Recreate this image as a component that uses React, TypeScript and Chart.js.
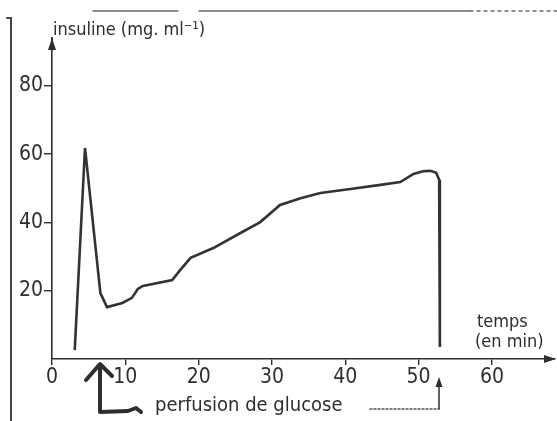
import React, { useEffect, useRef } from "react";
import { Chart, registerables } from "chart.js";

Chart.register(...registerables);

// Time (min) and insulin (mg.ml-1)
const minutes = [3.1, 4.5, 6.6, 7.5, 9.6, 10.9, 11.7, 12.4, 16.4, 17.5, 18.9, 22.0, 25.7, 28.4, 31.1, 33.9, 36.6, 40.7, 44.8, 47.5, 49.3, 50.6, 51.6, 52.4, 52.8, 52.9];
const insulin = [2.6, 61.8, 19.3, 15.2, 16.4, 17.9, 20.5, 21.4, 23.1, 26.1, 29.6, 32.5, 36.9, 40.1, 45.1, 47.1, 48.6, 49.8, 51.0, 51.8, 54.2, 55.0, 55.1, 54.5, 52.5, 3.5];
const xTicks = [0, 10, 20, 30, 40, 50, 60];
const yTicks = [20, 40, 60, 80];
const yTitle = "insuline (mg. ml⁻¹)";
const xTitle1 = "temps";
const xTitle2 = "(en min)";
const note = "perfusion de glucose";

const FONT = '"Liberation Sans Narrow", "DejaVu Sans Condensed", "Arial Narrow", "Liberation Sans", sans-serif';
const INK = "#2e2e2e";

const extras = {
  id: "extras",
  afterDraw(chart: any) {
    const ctx = chart.ctx as CanvasRenderingContext2D;
    const { left, right, top, bottom } = chart.chartArea;
    ctx.save();
    ctx.strokeStyle = INK;
    ctx.fillStyle = INK;
    ctx.lineCap = "round";
    // y-axis arrow
    ctx.lineWidth = 1.6;
    ctx.beginPath();
    ctx.moveTo(left, top + 10);
    ctx.lineTo(left, top);
    ctx.stroke();
    ctx.beginPath();
    ctx.moveTo(left, top);
    ctx.lineTo(left - 4, top + 12);
    ctx.lineTo(left + 4, top + 12);
    ctx.closePath();
    ctx.fill();
    // x-axis arrow
    ctx.beginPath();
    ctx.moveTo(right + 1, bottom);
    ctx.lineTo(right - 11, bottom - 4);
    ctx.lineTo(right - 11, bottom + 4);
    ctx.closePath();
    ctx.fill();
    // page border on the left
    ctx.strokeStyle = "#444";
    ctx.lineWidth = 2;
    ctx.beginPath();
    ctx.moveTo(7, 18);
    ctx.lineTo(11, 18);
    ctx.lineTo(11, 421);
    ctx.stroke();
    // top rules
    ctx.strokeStyle = "#6a6a6a";
    ctx.lineWidth = 1.4;
    ctx.beginPath();
    ctx.moveTo(93, 11);
    ctx.lineTo(178, 11);
    ctx.moveTo(199, 11);
    ctx.lineTo(470, 11);
    ctx.stroke();
    ctx.setLineDash([3, 4]);
    ctx.beginPath();
    ctx.moveTo(470, 11);
    ctx.lineTo(557, 11);
    ctx.stroke();
    ctx.setLineDash([]);
    // titles
    ctx.fillStyle = INK;
    ctx.textBaseline = "alphabetic";
    ctx.textAlign = "left";
    ctx.font = `18px ${FONT}`;
    ctx.fillText(yTitle, 53, 35);
    ctx.font = `18px ${FONT}`;
    ctx.fillText(xTitle1, 477, 327);
    ctx.fillText(xTitle2, 475, 347);
    ctx.font = `20px ${FONT}`;
    ctx.fillText(note, 155, 411);
    // dashed lead to the end of the perfusion
    ctx.strokeStyle = "#555";
    ctx.lineWidth = 1.5;
    ctx.setLineDash([2, 2]);
    ctx.beginPath();
    ctx.moveTo(370, 409);
    ctx.lineTo(439, 409);
    ctx.stroke();
    ctx.setLineDash([]);
    ctx.strokeStyle = INK;
    ctx.beginPath();
    ctx.moveTo(439, 409);
    ctx.lineTo(439, 384);
    ctx.stroke();
    ctx.beginPath();
    ctx.moveTo(439, 377);
    ctx.lineTo(435.5, 387);
    ctx.lineTo(442.5, 387);
    ctx.closePath();
    ctx.fill();
    // hand-drawn start arrow
    ctx.lineWidth = 4;
    ctx.lineJoin = "round";
    ctx.beginPath();
    ctx.moveTo(100, 365);
    ctx.lineTo(100, 412);
    ctx.lineTo(128, 411);
    ctx.lineTo(136, 408);
    ctx.lineTo(141, 412);
    ctx.stroke();
    ctx.beginPath();
    ctx.moveTo(86, 380);
    ctx.lineTo(100, 364);
    ctx.lineTo(112, 376);
    ctx.stroke();
    ctx.restore();
  },
};

export default function App() {
  const ref = useRef<HTMLCanvasElement | null>(null);
  useEffect(() => {
    if (!ref.current) return;
    const tickFont = { family: FONT, size: 21 };
    const chart = new Chart(ref.current, {
      type: "line",
      data: {
        datasets: [
          {
            data: minutes.map((m, i) => ({ x: m, y: insulin[i] })),
            borderColor: "#333",
            borderWidth: 2.6,
            pointRadius: 0,
            tension: 0,
            fill: false,
          },
        ],
      },
      options: {
        animation: false,
        responsive: false,
        devicePixelRatio: 1,
        layout: { padding: { left: 0, right: 2, top: 38, bottom: 0 } },
        plugins: { legend: { display: false }, tooltip: { enabled: false }, title: { display: false } },
        scales: {
          x: {
            type: "linear",
            min: 0,
            max: 68.6,
            afterBuildTicks: (s: any) => {
              s.ticks = xTicks.map((v) => ({ value: v }));
            },
            afterFit: (s: any) => {
              s.height = 62;
            },
            ticks: { font: tickFont, color: INK, padding: 0, maxRotation: 0, autoSkip: false },
            grid: { display: true, drawOnChartArea: false, tickLength: 6, color: INK, lineWidth: 1.4 },
            border: { display: true, color: INK, width: 1.6 },
          },
          y: {
            type: "linear",
            min: 0,
            max: 94,
            afterBuildTicks: (s: any) => {
              s.ticks = yTicks.map((v) => ({ value: v }));
            },
            afterFit: (s: any) => {
              s.width = 52;
            },
            ticks: { font: tickFont, color: INK, padding: 1 },
            grid: { display: true, drawOnChartArea: false, tickLength: 8, color: INK, lineWidth: 1.4 },
            border: { display: true, color: INK, width: 1.6 },
          },
        },
      },
      plugins: [extras],
    });
    return () => chart.destroy();
  }, []);
  return (
    <div style={{ position: "absolute", left: 0, top: 0, width: 557, height: 421, background: "#fff" }}>
      <canvas ref={ref} width={557} height={421} style={{ display: "block", width: 557, height: 421 }} />
    </div>
  );
}
